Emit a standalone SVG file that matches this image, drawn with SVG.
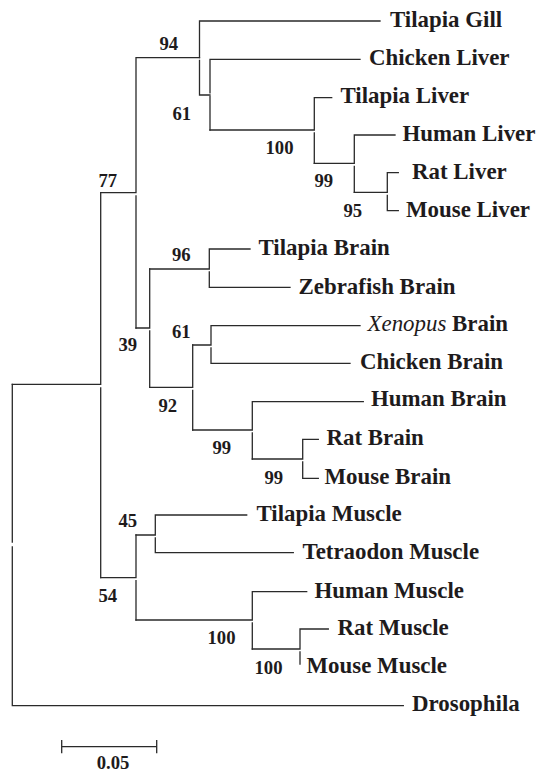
<svg xmlns="http://www.w3.org/2000/svg" width="539" height="774" viewBox="0 0 539 774">
<style>
.c{fill:none;stroke:#2a2a2a;stroke-width:1.3;stroke-linecap:square}
.l{font-family:"Liberation Serif","Times New Roman",serif;font-weight:bold;font-size:22.9px;fill:#1e1b1c}
.b{font-family:"Liberation Serif","Times New Roman",serif;font-weight:bold;font-size:18.7px;fill:#1e1b1c}
.i{font-style:italic;font-weight:normal}
</style>
<rect width="539" height="774" fill="#fff"/>
<g id="connectors" class="c">
<path d="M199.5 21H380M199.5 21V57.7M199.5 60.5V95H210"/>
<path d="M210 59.3V92.8M210 96.5V130M210 59.3H360"/>
<path d="M210 130H314.3M314.3 97.7V130M314.3 133V163.3M314.3 97.7H331.7"/>
<path d="M314.3 163.3H354.3M354.3 135V163.3M354.3 166.3V192.3M354.3 135H395"/>
<path d="M354.3 192.3H387.3M387.3 172.7V192.3M387.3 195.3V210.7M387.3 172.7H398.3M387.3 210.7H398.3"/>
<path d="M136 57.7H199.5M136 57.7V192.7M136 196V328M100.7 192.7H136"/>
<path d="M136 328H149.7M149.7 269V328M149.7 331V387.3"/>
<path d="M149.7 269H209.3M209.3 249V269M209.3 272V287.3M209.3 249H250M209.3 287.3H290"/>
<path d="M149.7 387.3H192.7M192.7 345V387.3M192.7 390.3V430"/>
<path d="M192.7 345H211M211 325.7V345M211 348V363.3M211 325.7H360M211 363.3H350"/>
<path d="M192.7 430H252.3M252.3 401.7V430M252.3 433V459M252.3 401.7H363.3"/>
<path d="M252.3 459H302.7M302.7 439.3V459M302.7 462V478.3M302.7 439.3H318.3M302.7 478.3H318.3"/>
<path d="M12.3 384.3H100.7M100.7 192.7V384.3M100.7 388V577.7"/>
<path d="M100.7 577.7H136M136 535V577.7M136 580.7V620"/>
<path d="M136 535H155.3M155.3 515V535M155.3 538V552.7M155.3 515H246.7M155.3 552.7H293.3"/>
<path d="M136 620H252.3M252.3 591.7V620M252.3 623V649M252.3 591.7H306.7"/>
<path d="M252.3 649H300M300 629V649M300 652V664M300 629H328.3"/>
<path d="M12.3 384.3V542M12.3 547V705.7H403.3"/>
</g>
<g id="leaf-tilapia-gill"><text class="l" x="390" y="27">Tilapia Gill</text></g>
<g id="leaf-chicken-liver"><text class="l" x="369" y="65">Chicken Liver</text></g>
<g id="leaf-tilapia-liver"><text class="l" x="340.5" y="103">Tilapia Liver</text></g>
<g id="leaf-human-liver"><text class="l" x="402.5" y="141">Human Liver</text></g>
<g id="leaf-rat-liver"><text class="l" x="412" y="179">Rat Liver</text></g>
<g id="leaf-mouse-liver"><text class="l" x="406" y="217">Mouse Liver</text></g>
<g id="leaf-tilapia-brain"><text class="l" x="258.5" y="255">Tilapia Brain</text></g>
<g id="leaf-zebrafish-brain"><text class="l" x="298.5" y="293.5">Zebrafish Brain</text></g>
<g id="leaf-xenopus-brain"><text class="l" x="367.5" y="331"><tspan class="i">Xenopus</tspan> Brain</text></g>
<g id="leaf-chicken-brain"><text class="l" x="360" y="368.5">Chicken Brain</text></g>
<g id="leaf-human-brain"><text class="l" x="371" y="406">Human Brain</text></g>
<g id="leaf-rat-brain"><text class="l" x="326.5" y="445">Rat Brain</text></g>
<g id="leaf-mouse-brain"><text class="l" x="324.5" y="483.5">Mouse Brain</text></g>
<g id="leaf-tilapia-muscle"><text class="l" x="256.5" y="520.5">Tilapia Muscle</text></g>
<g id="leaf-tetraodon-muscle"><text class="l" x="302.5" y="559">Tetraodon Muscle</text></g>
<g id="leaf-human-muscle"><text class="l" x="314.5" y="597.5">Human Muscle</text></g>
<g id="leaf-rat-muscle"><text class="l" x="337.5" y="634.5">Rat Muscle</text></g>
<g id="leaf-mouse-muscle"><text class="l" x="306.5" y="672.5">Mouse Muscle</text></g>
<g id="leaf-drosophila"><text class="l" x="412" y="711">Drosophila</text></g>
<g id="node-94"><text class="b" x="159.5" y="50">94</text></g>
<g id="node-61-liver"><text class="b" x="172.5" y="120">61</text></g>
<g id="node-100-liver"><text class="b" x="265.5" y="154">100</text></g>
<g id="node-99-liver"><text class="b" x="314.5" y="187">99</text></g>
<g id="node-95"><text class="b" x="343.5" y="217">95</text></g>
<g id="node-77"><text class="b" x="98.5" y="187">77</text></g>
<g id="node-96"><text class="b" x="172" y="261">96</text></g>
<g id="node-61-brain"><text class="b" x="172" y="337.5">61</text></g>
<g id="node-39"><text class="b" x="118.5" y="351">39</text></g>
<g id="node-92"><text class="b" x="158.5" y="412">92</text></g>
<g id="node-99-brain"><text class="b" x="212.5" y="453.5">99</text></g>
<g id="node-99-rodent-brain"><text class="b" x="264.5" y="483.5">99</text></g>
<g id="node-45"><text class="b" x="118.5" y="527">45</text></g>
<g id="node-54"><text class="b" x="98.5" y="602">54</text></g>
<g id="node-100-muscle"><text class="b" x="207.5" y="643.5">100</text></g>
<g id="node-100-rodent-muscle"><text class="b" x="254.5" y="673.5">100</text></g>
<g id="scale-bar">
<path class="c" d="M61.7 746.7H156.7M61.7 740.7V752.7M156.7 740.7V752.7"/>
<text class="b" x="113" y="768.5" text-anchor="middle">0.05</text>
</g>
</svg>
